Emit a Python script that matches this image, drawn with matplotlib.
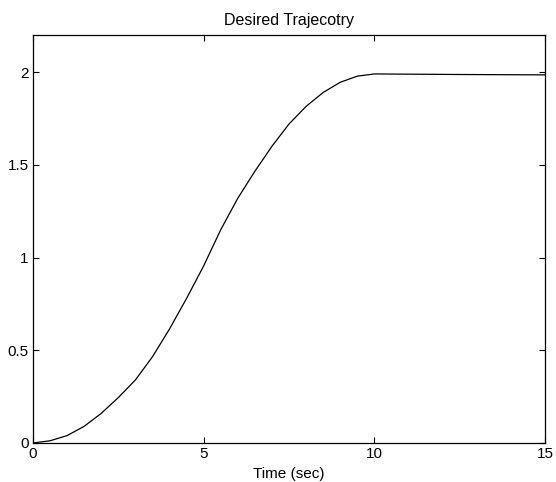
import matplotlib
matplotlib.use("Agg")
import matplotlib.pyplot as plt

# ── Data ─────────────────────────────────────────────────────────────────────
time_s = [0, 0.5, 1.0, 1.5, 2.0, 2.5, 3.0, 3.5, 4.0, 4.5, 5.0, 5.5, 6.0,
          6.5, 7.0, 7.5, 8.0, 8.5, 9.0, 9.5, 10.0, 12.5, 15]
position = [0, 0.012, 0.04, 0.09, 0.16, 0.245, 0.34, 0.465, 0.615, 0.78,
            0.955, 1.15, 1.32, 1.465, 1.6, 1.72, 1.815, 1.89, 1.945, 1.978,
            1.99, 1.987, 1.985]

x_ticks = [0, 5, 10, 15]
y_ticks = [0, 0.5, 1, 1.5, 2]
y_tick_labels = ["0", "0.5", "1", "1.5", "2"]

plt.rcParams["font.family"] = ["Liberation Sans", "DejaVu Sans"]

fig = plt.figure(figsize=(5.56, 4.82), dpi=100)
ax = fig.add_axes([33 / 556, 1 - 443 / 482, 512 / 556, 408 / 482])

ax.plot(time_s, position, color="black", linewidth=0.9)

ax.set_xlim(0, 15)
ax.set_ylim(0, 2.2)
ax.set_xticks(x_ticks)
ax.set_yticks(y_ticks)
ax.set_yticklabels(y_tick_labels)
ax.tick_params(direction="in", length=4, width=0.8, top=True, right=True,
               labelsize=11, pad=3)
for s in ax.spines.values():
    s.set_linewidth(0.9)

ax.set_title("Desired Trajecotry", fontsize=11.5, pad=7)
ax.set_xlabel("Time (sec)", fontsize=11, labelpad=4)

fig.savefig("out.png", dpi=100)
